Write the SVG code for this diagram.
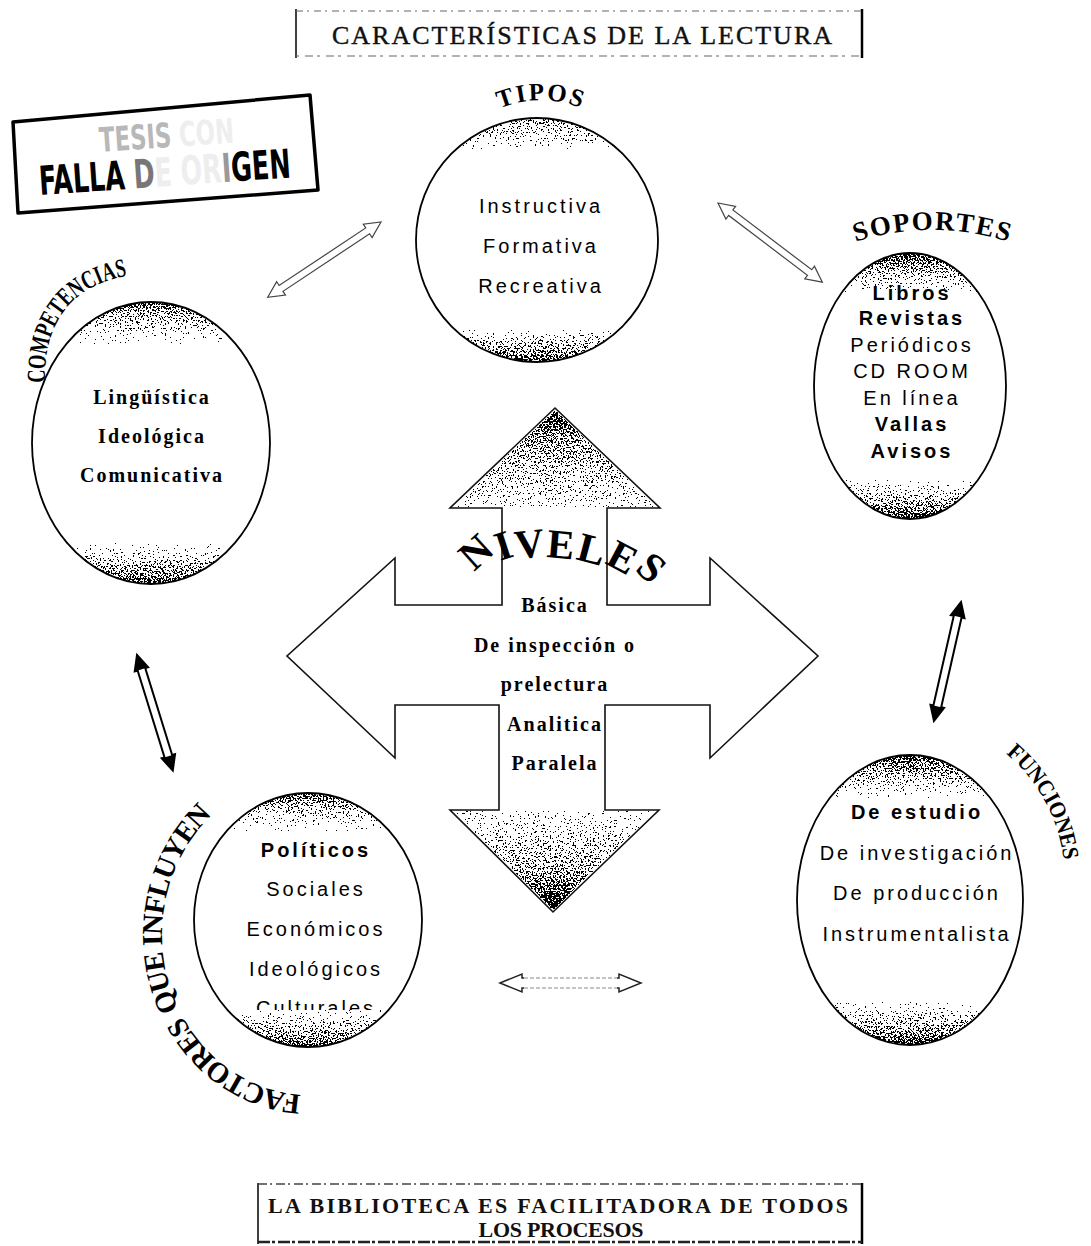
<svg xmlns="http://www.w3.org/2000/svg" width="1091" height="1246" viewBox="0 0 1091 1246">
<defs>
<style>
.ell{fill:#fff;stroke:#000;stroke-width:1.8}
.sans{font-family:"Liberation Sans",Arial,sans-serif;font-size:20px;letter-spacing:3px;text-anchor:middle;fill:#000}
.serif{font-family:"Liberation Serif","Times New Roman",serif;font-weight:bold;font-size:20px;letter-spacing:2px;text-anchor:middle;fill:#000}
.lbl{font-family:"Liberation Serif","Times New Roman",serif;font-weight:bold;fill:#000}
.b{font-weight:bold}
.arrT{fill:#fff;stroke:#444;stroke-width:1.2}
.arrK{fill:#fff;stroke:#000;stroke-width:2}
.head{fill:#000}
.box{font-family:"Liberation Serif","Times New Roman",serif;text-anchor:middle;fill:#111}
</style>
<linearGradient id="gH" x1="0" y1="0" x2="0" y2="1">
<stop offset="0" stop-opacity="0.9"/><stop offset="0.05" stop-opacity="0.65"/><stop offset="0.13" stop-opacity="0.35"/><stop offset="0.19" stop-opacity="0"/>
<stop offset="0.8" stop-opacity="0"/><stop offset="0.88" stop-opacity="0.4"/><stop offset="0.95" stop-opacity="0.65"/><stop offset="1" stop-opacity="0.95"/>
</linearGradient>
<linearGradient id="gT" x1="0" y1="0" x2="0" y2="1">
<stop offset="0" stop-opacity="0.6"/><stop offset="0.1" stop-opacity="0.4"/><stop offset="0.17" stop-opacity="0"/>
<stop offset="0.82" stop-opacity="0"/><stop offset="0.9" stop-opacity="0.45"/><stop offset="1" stop-opacity="0.85"/>
</linearGradient>
<linearGradient id="gM" x1="0" y1="0" x2="0" y2="1">
<stop offset="0" stop-opacity="0.8"/><stop offset="0.06" stop-opacity="0.55"/><stop offset="0.14" stop-opacity="0.3"/><stop offset="0.2" stop-opacity="0"/>
<stop offset="0.8" stop-opacity="0"/><stop offset="0.9" stop-opacity="0.45"/><stop offset="1" stop-opacity="0.85"/>
</linearGradient>
<linearGradient id="gUp" x1="0" y1="0" x2="0" y2="1">
<stop offset="0" stop-opacity="0.95"/><stop offset="0.35" stop-opacity="0.65"/><stop offset="1" stop-opacity="0.38"/>
</linearGradient>
<linearGradient id="gDn" x1="0" y1="0" x2="0" y2="1">
<stop offset="0" stop-opacity="0.35"/><stop offset="0.55" stop-opacity="0.6"/><stop offset="1" stop-opacity="1"/>
</linearGradient>
<filter id="stip" x="0" y="0" width="1" height="1" color-interpolation-filters="sRGB">
<feTurbulence type="fractalNoise" baseFrequency="0.6" numOctaves="2" seed="7" result="n"/>
<feColorMatrix in="n" type="matrix" values="0 0 0 0 0 0 0 0 0 0 0 0 0 0 0 2 0 0 0 -0.5" result="na"/>
<feComposite in="SourceGraphic" in2="na" operator="arithmetic" k1="0" k2="1" k3="1" k4="-1" result="c"/>
<feComponentTransfer in="c"><feFuncA type="discrete" tableValues="0 1 1 1"/></feComponentTransfer>
</filter>
<clipPath id="clipCult"><rect x="200" y="980" width="230" height="30"/></clipPath>
<path id="pTipos" d="M 481 119 A 105 105 0 0 1 601 119"/>
<path id="pSop" d="M 854.7 242.2 A 250 250 0 0 1 1009.3 242.2"/>
<path id="pComp" d="M 45 383 Q 43 292 126 276"/>
<path id="pFact" d="M 304.8 1094.9 A 148 160 0 0 1 214.9 812.4"/>
<path id="pFunc" d="M 1006 753.6 A 165 165 0 0 1 1065 880"/>
</defs>
<rect width="1091" height="1246" fill="#fff"/>

<g id="node-title">
<line x1="296" y1="9" x2="296" y2="58" stroke="#000" stroke-width="1.5"/>
<line x1="862" y1="9" x2="862" y2="58" stroke="#000" stroke-width="2.5"/>
<line x1="296" y1="11" x2="862" y2="11" stroke="#666" stroke-width="1.2" stroke-dasharray="7 4 2 5"/>
<line x1="296" y1="56" x2="862" y2="56" stroke="#666" stroke-width="1.2" stroke-dasharray="3 6 8 4"/>
<text class="box" x="582" y="44" font-size="26" stroke="#111" stroke-width="0.4" textLength="500" lengthAdjust="spacing">CARACTERÍSTICAS DE LA LECTURA</text>
</g>

<g id="node-stamp">
<polygon points="13,122 310,95 318,190 18,213" fill="none" stroke="#000" stroke-width="3.5" stroke-linejoin="round"/>
<text x="100" y="152" transform="rotate(-4 100 152)" font-family="'DejaVu Sans Condensed','DejaVu Sans',sans-serif" font-weight="bold" font-size="34" textLength="135" lengthAdjust="spacingAndGlyphs"><tspan fill="#b8b8b8">TESIS</tspan><tspan fill="#eeeeee"> CON</tspan></text>
<text x="40" y="195" transform="rotate(-4 40 195)" font-family="'DejaVu Sans Condensed','DejaVu Sans',sans-serif" font-weight="bold" font-size="40" textLength="252" lengthAdjust="spacingAndGlyphs"><tspan fill="#000">FALLA</tspan><tspan fill="#777"> D</tspan><tspan fill="#eee">E OR</tspan><tspan fill="#999">I</tspan><tspan fill="#000">GEN</tspan></text>
</g>

<g id="node-tipos">
<ellipse class="ell" cx="537" cy="240" rx="121" ry="122"/>
<ellipse cx="537" cy="240" rx="121" ry="122" fill="url(#gT)" filter="url(#stip)"/>
<text class="lbl" font-size="25" letter-spacing="2" text-anchor="middle"><textPath href="#pTipos" startOffset="50%">TIPOS</textPath></text>
<text class="sans" x="541" y="213">Instructiva</text>
<text class="sans" x="541" y="253">Formativa</text>
<text class="sans" x="541" y="293">Recreativa</text>
</g>

<g id="node-soportes">
<ellipse class="ell" cx="910" cy="386" rx="96" ry="133"/>
<ellipse cx="910" cy="386" rx="96" ry="133" fill="url(#gH)" filter="url(#stip)"/>
<text class="lbl" font-size="27"><textPath href="#pSop" startOffset="1" textLength="155" lengthAdjust="spacing">SOPORTES</textPath></text>
<text class="sans b" x="912" y="300" letter-spacing="2.5">Libros</text>
<text class="sans b" x="912" y="325" letter-spacing="2.5">Revistas</text>
<text class="sans" x="912" y="352" letter-spacing="2.5">Periódicos</text>
<text class="sans" x="912" y="378" letter-spacing="2.5">CD ROOM</text>
<text class="sans" x="912" y="405" letter-spacing="2.5">En línea</text>
<text class="sans b" x="912" y="431" letter-spacing="2.5">Vallas</text>
<text class="sans b" x="912" y="458" letter-spacing="2.5">Avisos</text>
</g>

<g id="node-competencias">
<ellipse class="ell" cx="151" cy="443" rx="119" ry="141"/>
<ellipse cx="151" cy="443" rx="119" ry="141" fill="url(#gM)" filter="url(#stip)"/>
<text class="lbl" font-size="26"><textPath href="#pComp" textLength="150" lengthAdjust="spacingAndGlyphs">COMPETENCIAS</textPath></text>
<text class="serif" x="152" y="404">Lingüística</text>
<text class="serif" x="152" y="443">Ideológica</text>
<text class="serif" x="152" y="482">Comunicativa</text>
</g>

<g id="node-niveles">
<polygon points="555,408 660,508 607,508 607,605 710,605 710,558 818,656 710,758 710,705 605,705 605,810 659,810 553,912 450,810 499,810 499,705 395,705 395,758 287,656 395,558 395,605 502,605 502,508 450,508" fill="#fff" stroke="#111" stroke-width="1.6" stroke-linejoin="miter"/>
<polygon points="555,410 657,507 453,507" fill="url(#gUp)" filter="url(#stip)"/>
<polygon points="453,811 656,811 553,910" fill="url(#gDn)" filter="url(#stip)"/>
<text class="lbl" font-size="41" x="474 500 516 546 575 604 634" y="572 561 559 557 559 563 570" rotate="-42 -18 -6 5 15 28 42">NIVELES</text>
<text class="serif" x="555" y="612">Básica</text>
<text class="serif" x="555" y="652">De inspección o</text>
<text class="serif" x="555" y="691">prelectura</text>
<text class="serif" x="555" y="731">Analitica</text>
<text class="serif" x="555" y="770">Paralela</text>
</g>

<g id="node-factores">
<ellipse class="ell" cx="308" cy="920" rx="114" ry="127"/>
<ellipse cx="308" cy="920" rx="114" ry="127" fill="url(#gM)" filter="url(#stip)"/>
<text class="lbl" font-size="29" letter-spacing="-1"><textPath href="#pFact" startOffset="4">FACTORES</textPath></text>
<text class="lbl" font-size="29" letter-spacing="-1"><textPath href="#pFact" startOffset="160">QUE</textPath></text>
<text class="lbl" font-size="29" letter-spacing="-1"><textPath href="#pFact" startOffset="226">INFLUYEN</textPath></text>
<text class="sans b" x="316" y="857">Políticos</text>
<text class="sans" x="316" y="896">Sociales</text>
<text class="sans" x="316" y="936">Económicos</text>
<text class="sans" x="316" y="976">Ideológicos</text>
<text class="sans" x="316" y="1015" clip-path="url(#clipCult)">Culturales</text>
</g>

<g id="node-funciones">
<ellipse class="ell" cx="910" cy="900" rx="113" ry="145"/>
<ellipse cx="910" cy="900" rx="113" ry="145" fill="url(#gH)" filter="url(#stip)"/>
<text class="lbl" font-size="23"><textPath href="#pFunc" startOffset="0" textLength="124" lengthAdjust="spacingAndGlyphs">FUNCIONES</textPath></text>
<text class="sans b" x="917" y="819">De estudio</text>
<text class="sans" x="917" y="860">De investigación</text>
<text class="sans" x="917" y="900">De producción</text>
<text class="sans" x="917" y="941">Instrumentalista</text>
</g>

<g id="node-biblioteca">
<line x1="258" y1="1183" x2="258" y2="1244" stroke="#000" stroke-width="1.5"/>
<line x1="862" y1="1183" x2="862" y2="1244" stroke="#000" stroke-width="2.5"/>
<line x1="258" y1="1184" x2="862" y2="1184" stroke="#444" stroke-width="1.5" stroke-dasharray="9 3 2 4"/>
<line x1="258" y1="1242" x2="862" y2="1242" stroke="#222" stroke-width="2.5" stroke-dasharray="12 2 3 3"/>
<text class="box" x="558" y="1213" font-size="22" font-weight="bold" textLength="580" lengthAdjust="spacing">LA BIBLIOTECA ES FACILITADORA DE TODOS</text>
<text class="box" x="561" y="1237" font-size="22" font-weight="bold" textLength="165" lengthAdjust="spacing">LOS PROCESOS</text>
</g>

<g id="connectors">
<g transform="translate(381 222) rotate(146.4)">
<polygon class="arrT" points="0,0 16,-8 16,-3.5 120,-3.5 120,-8 136,0 120,8 120,3.5 16,3.5 16,8"/>
</g>
<g transform="translate(718 203) rotate(37.2)">
<polygon class="arrT" points="0,0 16,-8 16,-3.5 115,-3.5 115,-8 131,0 115,8 115,3.5 16,3.5 16,8"/>
</g>
<g transform="translate(137 655) rotate(72.8)">
<polygon class="arrK" points="0,0 15,-7 15,-4 106,-4 106,-7 121,0 106,7 106,4 15,4 15,7"/>
<polygon class="head" points="0,0 15,-7 15,7"/>
<polygon class="head" points="121,0 106,-7 106,7"/>
</g>
<g transform="translate(961 602) rotate(102.8)">
<polygon class="arrK" points="0,0 15,-7 15,-4 107,-4 107,-7 122,0 107,7 107,4 15,4 15,7"/>
<polygon class="head" points="0,0 15,-7 15,7"/>
<polygon class="head" points="122,0 107,-7 107,7"/>
</g>
<g transform="translate(500 983)">
<polygon points="0,0 22,-9 22,-5 119,-5 119,-9 141,0 119,9 119,5 22,5 22,9" fill="#fff" stroke="#222" stroke-width="1.5"/>
<line x1="24" y1="-5" x2="117" y2="-5" stroke="#fff" stroke-width="2"/>
<line x1="24" y1="5" x2="117" y2="5" stroke="#fff" stroke-width="2"/>
<line x1="24" y1="-5" x2="117" y2="-5" stroke="#888" stroke-width="1" stroke-dasharray="4 2"/>
<line x1="24" y1="5" x2="117" y2="5" stroke="#888" stroke-width="1" stroke-dasharray="4 2"/>
</g>
</g>
</svg>
